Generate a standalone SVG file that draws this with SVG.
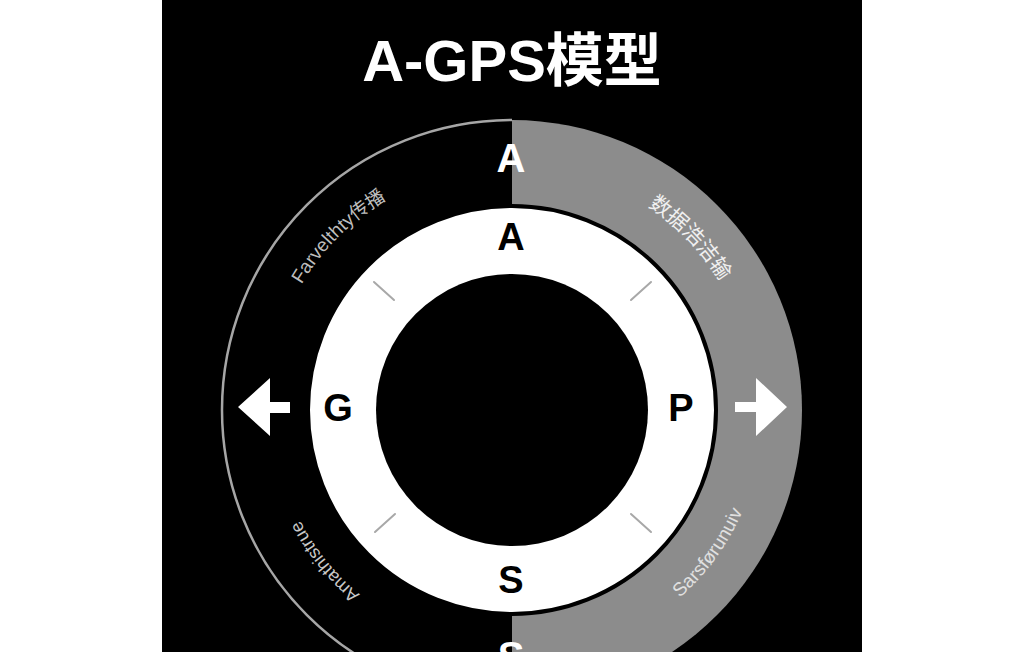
<svg xmlns="http://www.w3.org/2000/svg" width="1024" height="652" viewBox="0 0 1024 652">
<style>
.lbl{font-family:"Liberation Sans","Noto Sans CJK SC",sans-serif;font-weight:bold;text-anchor:middle}
.arc{font-family:"Liberation Sans","Noto Sans CJK SC",sans-serif;text-anchor:middle}
.tick{stroke:#a8a8a8;stroke-width:2;stroke-linecap:round}
</style>
<defs>
<path id="pTL" d="M275.3,346.6 A245,245 0 0 1 448.6,173.3"/>
<path id="pTR" d="M579.5,174.5 A245,245 0 0 1 749.7,350.7"/>
<path id="pBL" d="M426.3,633.1 A239,239 0 0 1 275.9,447.4"/>
<path id="pBR" d="M614.5,640.2 A252,252 0 0 0 762.6,436.3"/>
</defs>
<rect x="0" y="0" width="1024" height="652" fill="#ffffff"/>
<rect x="162" y="0" width="700" height="652" fill="#000000"/>
<text class="lbl" x="512" y="81" font-size="58" fill="#ffffff">A-GPS模型</text>
<g id="outer-ring">
<path d="M512,120 A290,290 0 0 1 512,700 Z" fill="#8c8c8c"/>
<path d="M512,120 A290,290 0 0 0 512,700" fill="none" stroke="#a6a6a6" stroke-width="2.5"/>
<text class="lbl" x="511" y="172" font-size="40" fill="#ffffff">A</text>
<text class="lbl" x="511" y="670" font-size="40" fill="#ffffff">S</text>
<text class="arc" font-size="19" fill="#bdbdbd"><textPath href="#pTL" startOffset="50%">Farvelthty传播</textPath></text>
<text class="arc" font-size="21" fill="#f0f0f0"><textPath href="#pTR" startOffset="50%">数据浩洁输</textPath></text>
<text class="arc" font-size="18" fill="#c8c8c8"><textPath href="#pBL" startOffset="50%">Amathistrue</textPath></text>
<text class="arc" font-size="19" fill="#e0e0e0"><textPath href="#pBR" startOffset="50%">Sarsførunuiv</textPath></text>
</g>
<g id="inner-ring">
<circle cx="512" cy="410" r="204" fill="#ffffff" stroke="#000000" stroke-width="4"/>
<circle cx="512" cy="410" r="136" fill="#000000"/>
<line class="tick" x1="374" y1="282" x2="394" y2="300"/>
<line class="tick" x1="631" y1="300" x2="651" y2="282"/>
<line class="tick" x1="375" y1="532" x2="395" y2="514"/>
<line class="tick" x1="631" y1="514" x2="651" y2="532"/>
</g>
<g id="node-A"><text class="lbl" x="511" y="250" font-size="38" fill="#000000">A</text></g>
<g id="node-G"><text class="lbl" x="338" y="421" font-size="38" fill="#000000">G</text></g>
<g id="node-P"><text class="lbl" x="681" y="421" font-size="38" fill="#000000">P</text></g>
<g id="node-S"><text class="lbl" x="511" y="593" font-size="38" fill="#000000">S</text></g>
<g id="connectors" fill="#ffffff">
<polygon points="238,407 270,378 270,402 290,402 290,413 270,413 270,436"/>
<polygon points="787,407 756,378 756,402 735,402 735,412 756,412 756,436"/>
</g>
</svg>
